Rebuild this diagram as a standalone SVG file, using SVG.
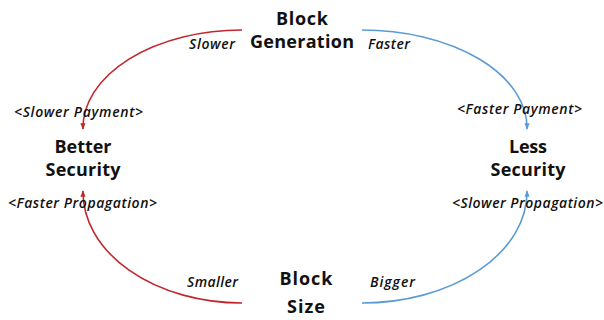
<svg xmlns="http://www.w3.org/2000/svg" width="604" height="320" viewBox="0 0 604 320">
  <style>
    .node { font-family: "Open Sans", "Noto Sans", "DejaVu Sans", sans-serif; font-weight: bold; font-size: 18px; fill: #111; text-anchor: middle; }
    .lbl { font-family: "Open Sans", "Noto Sans", "DejaVu Sans", sans-serif; font-style: italic; font-weight: 600; font-size: 14px; fill: #111; }
    .red { fill: none; stroke: #C0282D; stroke-width: 1.6; }
    .blue { fill: none; stroke: #5B9BD5; stroke-width: 1.6; }
  </style>
  <defs>
    <marker id="headRed" viewBox="0 0 10 10" refX="9" refY="5" markerWidth="4" markerHeight="4" orient="auto" markerUnits="strokeWidth">
      <path d="M0,1 L10,5 L0,9 z" fill="#C0282D"/>
    </marker>
    <marker id="headBlue" viewBox="0 0 10 10" refX="9" refY="5" markerWidth="4" markerHeight="4" orient="auto" markerUnits="strokeWidth">
      <path d="M0,1 L10,5 L0,9 z" fill="#5B9BD5"/>
    </marker>
  </defs>

  <rect width="604" height="320" fill="#fff"/>

  <g id="connectors">
    <path class="red" d="M242,30 A159,98 0 0 0 83,129" marker-end="url(#headRed)"/>
    <path class="blue" d="M362,30 A165,98 0 0 1 527,129" marker-end="url(#headBlue)"/>
    <path class="red" d="M242,303 A159,111 0 0 1 83,191" marker-end="url(#headRed)"/>
    <path class="blue" d="M362,303 A165,111 0 0 0 527,191" marker-end="url(#headBlue)"/>
  </g>

  <g id="block-generation">
    <text class="node" x="302" y="25" textLength="52">Block</text>
    <text class="node" x="302" y="48" textLength="104">Generation</text>
  </g>
  <g id="better-security">
    <text class="node" x="83" y="153" textLength="57">Better</text>
    <text class="node" x="83" y="176" textLength="75">Security</text>
  </g>
  <g id="less-security">
    <text class="node" x="528" y="153" textLength="38">Less</text>
    <text class="node" x="528" y="176" textLength="75">Security</text>
  </g>
  <g id="block-size">
    <text class="node" x="306" y="285" textLength="53">Block</text>
    <text class="node" x="306" y="313" textLength="38">Size</text>
  </g>

  <g id="labels">
    <text class="lbl" x="189" y="49" textLength="46">Slower</text>
    <text class="lbl" x="368" y="49" textLength="42">Faster</text>
    <text class="lbl" x="14" y="117" textLength="129">&lt;Slower Payment&gt;</text>
    <text class="lbl" x="457" y="114" textLength="125">&lt;Faster Payment&gt;</text>
    <text class="lbl" x="8" y="208" textLength="149">&lt;Faster Propagation&gt;</text>
    <text class="lbl" x="452" y="208" textLength="151">&lt;Slower Propagation&gt;</text>
    <text class="lbl" x="187" y="287" textLength="51">Smaller</text>
    <text class="lbl" x="370" y="287" textLength="45">Bigger</text>
  </g>
</svg>
